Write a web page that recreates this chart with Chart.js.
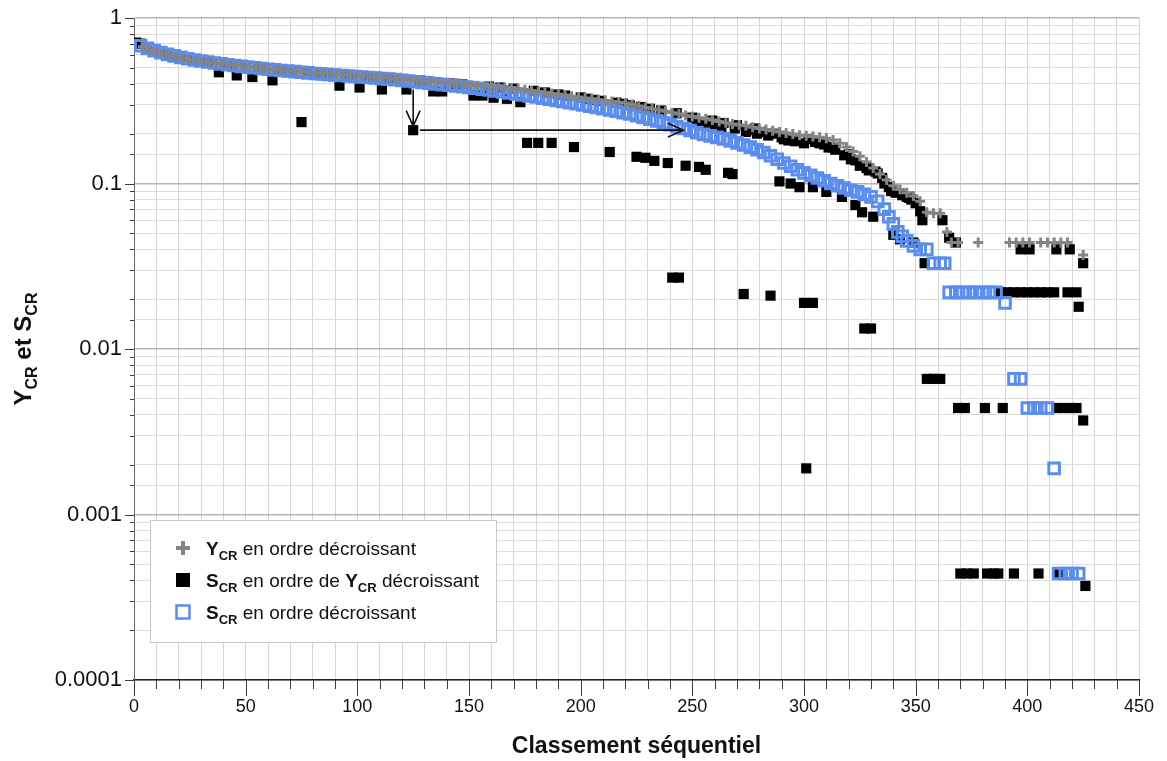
<!DOCTYPE html>
<html>
<head>
<meta charset="utf-8">
<script src="https://cdn.jsdelivr.net/npm/chart.js@4.4.1/dist/chart.umd.min.js"></script>
<style>
  html, body { margin: 0; padding: 0; background: #ffffff; }
  canvas { display: block; }
</style>
</head>
<body>
<canvas id="chart" width="1167" height="761"></canvas>
<script>
// Y_CR sorted in decreasing order: [rank, value]
const ycrPoints = [
  [4,0.67],[7,0.645],[10,0.625],[13,0.61],[16,0.595],[19,0.582],[22,0.57],[25,0.562],[28,0.553],[31,0.546],
  [34,0.54],[37,0.533],[40,0.527],[43,0.521],[46,0.516],[49,0.51],[52,0.505],[55,0.5],[58,0.496],[61,0.492],
  [64,0.488],[67,0.484],[70,0.48],[73,0.476],[76,0.472],[79,0.469],[82,0.466],[85,0.463],[88,0.46],[91,0.457],
  [94,0.454],[97,0.451],[100,0.448],[103,0.445],[106,0.442],[109,0.439],[112,0.436],[115,0.433],[118,0.43],[121,0.427],
  [124,0.424],[127,0.42],[130,0.416],[133,0.413],[136,0.41],[139,0.406],[142,0.403],[145,0.4],[148,0.397],[151,0.393],
  [154,0.39],[157,0.387],[160,0.384],[163,0.381],[166,0.378],[169,0.375],[172,0.372],[175,0.368],[178,0.364],[181,0.36],
  [184,0.355],[187,0.35],[190,0.346],[193,0.342],[196,0.337],[199,0.333],[202,0.329],[205,0.325],[208,0.321],[211,0.317],
  [214,0.313],[217,0.31],[220,0.306],[223,0.3],[226,0.294],[229,0.288],[232,0.283],[235,0.278],[238,0.273],[241,0.268],
  [244,0.263],[247,0.258],[250,0.254],[253,0.25],[256,0.246],[259,0.242],[262,0.237],[265,0.233],[268,0.229],[271,0.226],
  [274,0.223],[277,0.219],[280,0.215],[283,0.212],[286,0.208],[289,0.205],[292,0.202],[295,0.199],[298,0.196],[301,0.194],
  [304,0.192],[307,0.19],[310,0.188],[313,0.183],[316,0.175],[319,0.166],[322,0.156],[325,0.146],[328,0.135],[331,0.124],
  [334,0.114],[337,0.105],[340,0.097],[343,0.092],[346,0.088],[349,0.084],[352,0.078],[355,0.067],[358,0.066],[361,0.066],
  [364,0.051],[366,0.044],[369,0.044],[378,0.044],[392,0.044],[395,0.044],[398,0.044],[401,0.044],[406,0.044],[409,0.044],
  [412,0.044],[415,0.044],[418,0.044],[425,0.037]
];

// S_CR taken in the order of decreasing Y_CR: [rank, value]
const scrByYcrPoints = [
  [1,0.71],[3,0.70],[6,0.65],[9,0.63],[12,0.615],[15,0.6],[18,0.585],[21,0.573],[24,0.563],[27,0.555],
  [30,0.548],[33,0.541],[38,0.47],[41,0.525],[44,0.518],[46,0.45],[50,0.508],[53,0.44],[56,0.498],[59,0.494],
  [62,0.42],[65,0.486],[68,0.482],[71,0.478],[75,0.235],[78,0.47],[81,0.467],[84,0.464],[87,0.461],[92,0.39],
  [95,0.452],[98,0.449],[101,0.38],[104,0.445],[107,0.441],[111,0.37],[114,0.434],[117,0.431],[122,0.37],[125,0.21],
  [128,0.419],[131,0.415],[134,0.36],[138,0.36],[141,0.404],[144,0.4],[147,0.397],[152,0.34],[156,0.34],[159,0.385],
  [161,0.33],[164,0.38],[167,0.325],[170,0.374],[173,0.31],[176,0.176],[179,0.363],[181,0.176],[184,0.355],[187,0.176],
  [190,0.345],[193,0.34],[197,0.166],[200,0.331],[203,0.325],[206,0.32],[209,0.316],[213,0.155],[216,0.308],[219,0.303],
  [222,0.297],[225,0.145],[227,0.29],[229,0.143],[231,0.283],[233,0.137],[236,0.276],[239,0.133],[241,0.027],[243,0.266],
  [244,0.027],[247,0.128],[250,0.25],[252,0.235],[253,0.126],[255,0.225],[256,0.121],[258,0.228],[259,0.24],[261,0.216],
  [263,0.22],[264,0.232],[266,0.116],[268,0.114],[269,0.215],[270,0.225],[273,0.0215],[274,0.205],[275,0.21],[278,0.215],
  [279,0.2],[281,0.205],[284,0.195],[285,0.021],[287,0.2],[289,0.103],[290,0.19],[291,0.185],[293,0.182],[294,0.1],
  [296,0.18],[298,0.095],[300,0.175],[301,0.0019],[300,0.019],[302,0.185],[304,0.095],[304,0.019],[305,0.178],[307,0.175],
  [309,0.172],[310,0.089],[311,0.165],[313,0.165],[314,0.16],[317,0.083],[318,0.148],[320,0.15],[321,0.14],[323,0.074],
  [323,0.138],[325,0.128],[326,0.067],[327,0.0133],[328,0.124],[329,0.12],[330,0.0133],[331,0.063],[332,0.118],[333,0.115],
  [335,0.108],[336,0.1],[338,0.095],[339,0.09],[340,0.049],[341,0.088],[343,0.046],[344,0.085],[346,0.083],[347,0.082],
  [348,0.08],[349,0.044],[350,0.076],[352,0.068],[353,0.06],[354,0.033],[355,0.0066],[358,0.0066],[361,0.0066],[362,0.06],
  [365,0.047],[368,0.044],
  [369,0.0044],[372,0.0044],[381,0.0044],[389,0.0044],[413,0.0044],[416,0.0044],[419,0.0044],[422,0.0044],[425,0.0037],
  [370,0.00044],[373,0.00044],[376,0.00044],[382,0.00044],[385,0.00044],[387,0.00044],[394,0.00044],[405,0.00044],[414,0.00044],[426,0.00037],
  [388,0.022],[391,0.022],[394,0.022],[397,0.022],[400,0.022],[403,0.022],[406,0.022],[409,0.022],[412,0.022],[418,0.022],
  [422,0.022],[423,0.018],[397,0.04],[401,0.04],[413,0.04],[419,0.04],[425,0.033]
];

// S_CR sorted in decreasing order: [rank, value]
const scrPoints = [
  [3,0.68],[6,0.655],[9,0.635],[12,0.618],[15,0.603],[18,0.59],[21,0.578],[24,0.567],[27,0.558],[30,0.55],
  [33,0.542],[36,0.535],[39,0.528],[42,0.522],[45,0.516],[48,0.51],[51,0.505],[54,0.5],[57,0.495],[60,0.49],
  [63,0.486],[66,0.482],[69,0.478],[72,0.474],[75,0.47],[78,0.466],[81,0.462],[84,0.459],[87,0.456],[90,0.452],
  [93,0.449],[96,0.446],[99,0.443],[102,0.44],[105,0.437],[108,0.434],[111,0.43],[114,0.427],[117,0.424],[120,0.42],
  [123,0.416],[126,0.412],[129,0.408],[132,0.404],[135,0.4],[138,0.396],[141,0.392],[144,0.388],[147,0.384],[150,0.38],
  [153,0.376],[156,0.372],[159,0.367],[162,0.363],[165,0.358],[168,0.353],[171,0.348],[174,0.343],[177,0.338],[180,0.333],
  [183,0.328],[186,0.323],[189,0.318],[192,0.313],[195,0.308],[198,0.303],[201,0.298],[204,0.293],[207,0.288],[210,0.283],
  [213,0.278],[216,0.273],[219,0.268],[222,0.263],[225,0.257],[228,0.251],[231,0.245],[234,0.239],[237,0.233],[240,0.227],
  [243,0.221],[246,0.215],[249,0.209],[252,0.203],[255,0.198],[258,0.194],[261,0.19],[264,0.186],[267,0.181],[270,0.176],
  [273,0.171],[276,0.166],[279,0.16],[282,0.154],[285,0.147],[288,0.14],[291,0.133],[294,0.127],[297,0.121],[300,0.116],
  [303,0.112],[306,0.108],[309,0.104],[312,0.1],[315,0.097],[318,0.094],[321,0.091],[324,0.089],[327,0.086],[330,0.083],
  [333,0.078],[336,0.07],[338,0.063],[340,0.057],[342,0.051],[344,0.048],[346,0.045],[349,0.042],[352,0.04],[355,0.04],
  [358,0.033],[361,0.033],[363,0.033],[365,0.022],[368,0.022],[371,0.022],[374,0.022],[377,0.022],[380,0.022],[383,0.022],
  [386,0.022],[390,0.019],[394,0.0066],[397,0.0066],[400,0.0044],[403,0.0044],[406,0.0044],[409,0.0044],[412,0.0019],
  [414,0.00044],[417,0.00044],[420,0.00044],[423,0.00044]
];

// Axis labels
const xTickLabels = ['0','50','100','150','200','250','300','350','400','450'];
const yTickLabels = ['1','0.1','0.01','0.001','0.0001'];

// Annotation arrows, in data coordinates [rank, value]
const arrowDown = [[125, 0.37], [125, 0.222]];
const arrowRight = [[128, 0.21], [246, 0.21]];

const FONT = '"Liberation Sans", Arial, Helvetica, sans-serif';
const GREY = '#848484';
const BLUE = '#5b8def';

const toXY = (pairs) => pairs.map(([x, y]) => ({ x, y }));
const isDecade = (v) => Math.abs(Math.log10(v) - Math.round(Math.log10(v))) < 1e-6;

// Text with bold / subscript runs: parts = [[text, flags]], flags: b = bold, s = subscript
function runFont(flags, size) {
  const sub = flags.includes('s');
  const fs = sub ? Math.round(size * 0.66) : size;
  return `${flags.includes('b') ? 'bold ' : ''}${fs}px ${FONT}`;
}
function measureRich(ctx, parts, size) {
  let w = 0;
  parts.forEach(([t, f]) => { ctx.font = runFont(f, size); w += ctx.measureText(t).width; });
  return w;
}
function drawRich(ctx, parts, x, y, size) {
  let cx = x;
  ctx.textBaseline = 'alphabetic';
  ctx.textAlign = 'left';
  parts.forEach(([t, f]) => {
    ctx.font = runFont(f, size);
    ctx.fillText(t, cx, f.includes('s') ? y + size * 0.24 : y);
    cx += ctx.measureText(t).width;
  });
}

const legendEntries = [
  { marker: 'cross', parts: [['Y', 'b'], ['CR', 'bs'], [' en ordre décroissant', '']] },
  { marker: 'solid', parts: [['S', 'b'], ['CR', 'bs'], [' en ordre de ', ''], ['Y', 'b'], ['CR', 'bs'], [' décroissant', '']] },
  { marker: 'hollow', parts: [['S', 'b'], ['CR', 'bs'], [' en ordre décroissant', '']] }
];
const yTitleParts = [['Y', 'b'], ['CR', 'bs'], [' et ', 'b'], ['S', 'b'], ['CR', 'bs']];
const xTitle = 'Classement séquentiel';

const whiteBackground = {
  id: 'whiteBackground',
  beforeDraw(chart) {
    const { ctx, width, height } = chart;
    ctx.save();
    ctx.fillStyle = '#ffffff';
    ctx.fillRect(0, 0, width, height);
    ctx.restore();
  }
};

// Tick marks: long every 50 and short every 10 on x; decades and minors on y
const axisMarks = {
  id: 'axisMarks',
  afterDraw(chart) {
    const { ctx, chartArea: a, scales: { x, y } } = chart;
    ctx.save();
    ctx.strokeStyle = '#3a3a3a';
    ctx.lineWidth = 1;
    ctx.beginPath();
    x.ticks.forEach((t) => {
      const px = Math.round(x.getPixelForValue(t.value)) + 0.5;
      const len = t.value % 50 === 0 ? 16 : 9;
      ctx.moveTo(px, a.bottom);
      ctx.lineTo(px, a.bottom + len);
    });
    y.ticks.forEach((t) => {
      const py = Math.round(y.getPixelForValue(t.value)) + 0.5;
      const len = isDecade(t.value) ? 9 : 4;
      ctx.moveTo(a.left - len, py);
      ctx.lineTo(a.left, py);
    });
    ctx.stroke();
    ctx.restore();
  }
};

function drawArrow(ctx, x0, y0, x1, y1) {
  const ang = Math.atan2(y1 - y0, x1 - x0);
  const head = 17, spread = 0.42;
  ctx.beginPath();
  ctx.moveTo(x0, y0);
  ctx.lineTo(x1, y1);
  ctx.moveTo(x1 - head * Math.cos(ang - spread), y1 - head * Math.sin(ang - spread));
  ctx.lineTo(x1, y1);
  ctx.lineTo(x1 - head * Math.cos(ang + spread), y1 - head * Math.sin(ang + spread));
  ctx.stroke();
}

const arrows = {
  id: 'arrows',
  afterDatasetsDraw(chart) {
    const { ctx, scales: { x, y } } = chart;
    ctx.save();
    ctx.strokeStyle = '#111111';
    ctx.lineWidth = 1.6;
    [arrowDown, arrowRight].forEach(([p0, p1]) => {
      drawArrow(ctx, x.getPixelForValue(p0[0]), y.getPixelForValue(p0[1]),
                     x.getPixelForValue(p1[0]), y.getPixelForValue(p1[1]));
    });
    ctx.restore();
  }
};

const richLegend = {
  id: 'richLegend',
  afterDraw(chart) {
    const { ctx, chartArea: a } = chart;
    const bx = a.left + 16, by = a.bottom - 160, bw = 346, bh = 122;
    ctx.save();
    ctx.fillStyle = '#ffffff';
    ctx.fillRect(bx, by, bw, bh);
    ctx.strokeStyle = '#c8c8c8';
    ctx.lineWidth = 1;
    ctx.strokeRect(bx + 0.5, by + 0.5, bw, bh);
    legendEntries.forEach((e, i) => {
      const cy = by + 28 + i * 32;
      const mx = bx + 33;
      if (e.marker === 'cross') {
        ctx.strokeStyle = GREY; ctx.lineWidth = 4;
        ctx.beginPath();
        ctx.moveTo(mx - 7, cy); ctx.lineTo(mx + 7, cy);
        ctx.moveTo(mx, cy - 7); ctx.lineTo(mx, cy + 7);
        ctx.stroke();
      } else if (e.marker === 'solid') {
        ctx.fillStyle = '#000000';
        ctx.fillRect(mx - 7, cy - 7, 14, 14);
      } else {
        ctx.strokeStyle = BLUE; ctx.lineWidth = 2.5;
        ctx.strokeRect(mx - 6.5, cy - 6.5, 13, 13);
      }
      ctx.fillStyle = '#111111';
      drawRich(ctx, e.parts, bx + 56, cy + 7, 19);
    });
    ctx.restore();
  }
};

const axisTitles = {
  id: 'axisTitles',
  afterDraw(chart) {
    const { ctx, chartArea: a } = chart;
    ctx.save();
    ctx.fillStyle = '#111111';
    ctx.font = `bold 23px ${FONT}`;
    ctx.textAlign = 'center';
    ctx.textBaseline = 'alphabetic';
    ctx.fillText(xTitle, (a.left + a.right) / 2, 753);
    ctx.translate(31, (a.top + a.bottom) / 2);
    ctx.rotate(-Math.PI / 2);
    const w = measureRich(ctx, yTitleParts, 24);
    drawRich(ctx, yTitleParts, -w / 2, 0, 24);
    ctx.restore();
  }
};

new Chart(document.getElementById('chart'), {
  type: 'scatter',
  data: {
    datasets: [
      {
        label: 'Y_CR en ordre décroissant',
        data: toXY(ycrPoints),
        pointStyle: 'cross',
        pointRadius: 5,
        borderWidth: 3,
        borderColor: GREY,
        backgroundColor: GREY,
        order: 0
      },
      {
        label: 'S_CR en ordre de Y_CR décroissant',
        data: toXY(scrByYcrPoints),
        pointStyle: 'rect',
        pointRadius: 7.2,
        borderWidth: 0,
        borderColor: '#000000',
        backgroundColor: '#000000',
        order: 2
      },
      {
        label: 'S_CR en ordre décroissant',
        data: toXY(scrPoints),
        pointStyle: 'rect',
        pointRadius: 7.5,
        borderWidth: 3,
        borderColor: BLUE,
        backgroundColor: 'rgba(0,0,0,0)',
        order: 1
      }
    ]
  },
  options: {
    responsive: false,
    animation: false,
    events: [],
    layout: { padding: { top: 18, right: 28, left: 0, bottom: 0 } },
    plugins: { legend: { display: false }, tooltip: { enabled: false } },
    scales: {
      x: {
        type: 'linear',
        min: 0,
        max: 450,
        afterFit: (s) => { s.height = 81; s.paddingLeft = 0; s.paddingRight = 0; },
        ticks: {
          stepSize: 10,
          autoSkip: false,
          maxRotation: 0,
          padding: 16,
          color: '#111111',
          font: { family: FONT, size: 18 },
          callback: (v) => (v % 50 === 0 ? xTickLabels[v / 50] : '')
        },
        grid: { color: '#d6d6d6', lineWidth: 1, drawTicks: false },
        border: { color: '#222222', width: 1.5 }
      },
      y: {
        type: 'logarithmic',
        min: 0.0001,
        max: 1,
        afterFit: (s) => { s.width = 134; s.paddingTop = 0; s.paddingBottom = 0; },
        ticks: {
          autoSkip: false,
          padding: 12,
          color: '#111111',
          font: { family: FONT, size: 22 },
          callback: (v) => (isDecade(v) ? yTickLabels[-Math.round(Math.log10(v))] : '')
        },
        grid: {
          drawTicks: false,
          color: (c) => (c.tick && isDecade(c.tick.value) ? '#b4b4b4' : '#dcdcdc'),
          lineWidth: (c) => (c.tick && isDecade(c.tick.value) ? 1.5 : 1)
        },
        border: { color: '#666666', width: 1 }
      }
    }
  },
  plugins: [whiteBackground, axisMarks, arrows, richLegend, axisTitles]
});
</script>
</body>
</html>
